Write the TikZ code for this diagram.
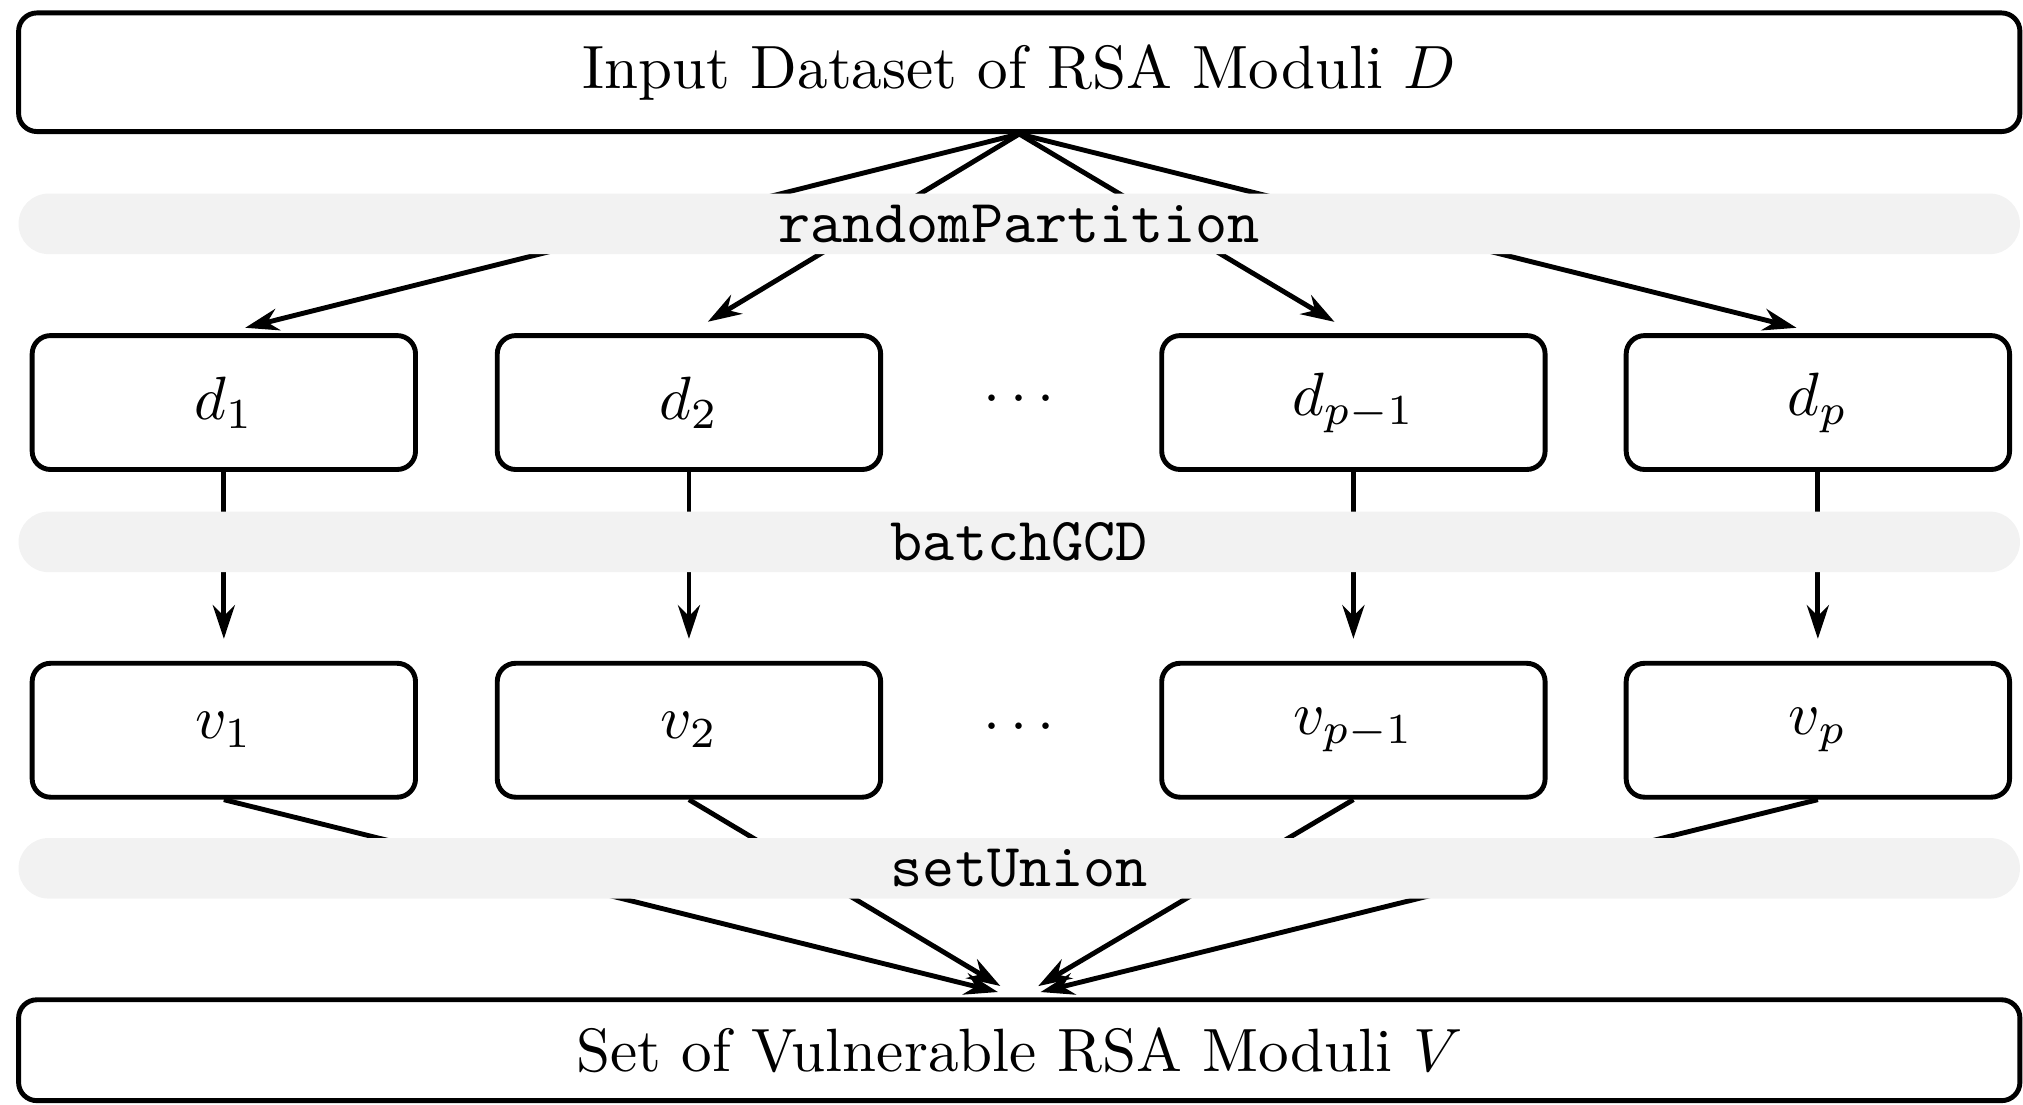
\documentclass[tikz,border=0pt]{standalone}
\usetikzlibrary{arrows.meta}
\begin{document}
\begin{tikzpicture}[x=0.211pt,y=-0.211pt,
  bigbox/.style={draw,line width=0.8pt,rounded corners=3pt,minimum width=327.3pt,inner sep=0pt,fill=white},
  smallbox/.style={draw,line width=0.8pt,rounded corners=3pt,minimum width=62.7pt,minimum height=21.9pt,inner sep=0pt,fill=white},
  band/.style={fill=gray!10,rounded corners=4.9pt,minimum width=327.3pt,minimum height=9.9pt,inner sep=0pt,font=\ttfamily},
  arr/.style={line width=0.8pt,-{Stealth[length=5.5pt,width=3.6pt]},shorten >=3.6pt}]
\useasboundingbox (0,0) rectangle (1568,856);
% boxes
\node[bigbox,minimum height=19.4pt] (top) at (790,56) {Input Dataset of RSA Moduli $D$};
\node[smallbox] (d1) at (173.5,312) {$d_1$};
\node[smallbox] (d2) at (534,312) {$d_2$};
\node (dd) at (790,310) {$\cdots$};
\node[smallbox] (dq) at (1049,312) {$d_{p-1}$};
\node[smallbox] (dp) at (1409,312) {$d_p$};
\node[smallbox] (v1) at (173.5,566) {$v_1$};
\node[smallbox] (v2) at (534,566) {$v_2$};
\node (vd) at (790,564) {$\cdots$};
\node[smallbox] (vq) at (1049,566) {$v_{p-1}$};
\node[smallbox] (vp) at (1409,566) {$v_p$};
\node[bigbox,minimum height=16.5pt] (bot) at (790,814) {Set of Vulnerable RSA Moduli $V$};
% connectors
\foreach \n in {d1,d2,dq,dp} \draw[arr] (top.south) -- (\n.north);
\draw[arr] (d1.south) -- (v1.north);
\draw[arr] (d2.south) -- (v2.north);
\draw[arr] (dq.south) -- (vq.north);
\draw[arr] (dp.south) -- (vp.north);
\foreach \n in {v1,v2,vq,vp} \draw[arr] (\n.south) -- (bot.north);
% bands
\node[band] (rp) at (790,173.5) {randomPartition};
\node[band] (bg) at (790,420) {batchGCD};
\node[band] (su) at (790,673) {setUnion};
\end{tikzpicture}
\end{document}
